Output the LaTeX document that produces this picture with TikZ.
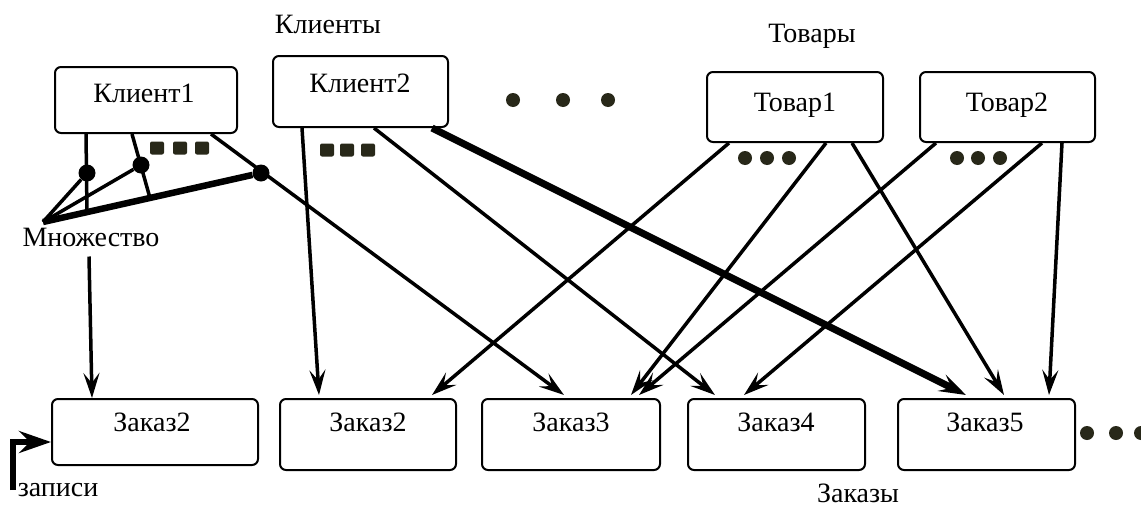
\documentclass[tikz,border=0pt]{standalone}
\usepackage{fontspec}
\setmainfont{Liberation Serif}
\usetikzlibrary{arrows.meta,calc}
\definecolor{dotc}{RGB}{40,40,25}
\tikzset{
  box/.style={draw, line width=2pt, rounded corners=6pt, inner sep=0pt},
  txt/.style={inner sep=0pt, font=\fontsize{28}{30}\selectfont},
  conn/.style={line width=3.5pt, -{Stealth[length=25pt,width=16pt,inset=10pt]}},
  thickconn/.style={line width=7pt, -{Stealth[length=27pt,width=18pt,inset=11pt]}},
  fanline/.style={line width=3.5pt},
  fanthick/.style={line width=6.5pt},
  bigdot/.style={circle, fill=black, inner sep=0pt, minimum size=17pt},
  sqdot/.style={fill=dotc, inner sep=0pt, minimum width=14pt, minimum height=13pt, rounded corners=2pt},
  rdot/.style={circle, fill=dotc, inner sep=0pt, minimum size=14pt}
}
\begin{document}
\begin{tikzpicture}[x=1pt,y=-1pt]
\useasboundingbox (0,0) rectangle (1141,509);
\fill[white] (0,0) rectangle (1141,509);

% boxes
\node[box, minimum width=182pt, minimum height=66pt] (k1) at (146,100) {};
\node[box, minimum width=175pt, minimum height=71pt] (k2) at (360.5,91.5) {};
\node[box, minimum width=176pt, minimum height=70pt] (t1) at (795,107) {};
\node[box, minimum width=175pt, minimum height=70pt] (t2) at (1007.5,107) {};
\node[box, minimum width=206pt, minimum height=66pt] (z1) at (155,432) {};
\node[box, minimum width=176pt, minimum height=71pt] (z2) at (368,434.5) {};
\node[box, minimum width=178pt, minimum height=71pt] (z3) at (571,434.5) {};
\node[box, minimum width=177pt, minimum height=71pt] (z4) at (776.5,434.5) {};
\node[box, minimum width=177pt, minimum height=71pt] (z5) at (986.5,434.5) {};

% box texts
\node[txt] (k1t) at (144,93) {Клиент1};
\node[txt] (k2t) at (360,83) {Клиент2};
\node[txt] (t1t) at (795,105) {Товар1};
\node[txt] (t2t) at (1007,105) {Товар2};
\node[txt] (z1t) at (152,422) {Заказ2};
\node[txt] (z2t) at (368,422) {Заказ2};
\node[txt] (z3t) at (571,422) {Заказ3};
\node[txt] (z4t) at (776,422) {Заказ4};
\node[txt] (z5t) at (985,422) {Заказ5};

% labels
\node[txt] (lk) at (328,24) {Клиенты};
\node[txt] (lt) at (812,36) {Товары};
\node[txt] (mn) at (91,237) {Множество};
\node[txt] (lz) at (58,490) {записи};
\node[txt] (lzz) at (858,493) {Заказы};

% ellipsis dots
\node[sqdot] (s11) at (157,148) {};
\node[sqdot] (s12) at (180,148) {};
\node[sqdot] (s13) at (202,148) {};
\node[sqdot] (s21) at (327,150) {};
\node[sqdot] (s22) at (347,150) {};
\node[sqdot] (s23) at (368,150) {};
\node[rdot] (m1) at (513,100) {};
\node[rdot] (m2) at (563,100) {};
\node[rdot] (m3) at (608,100) {};
\node[rdot] (r11) at (745,158) {};
\node[rdot] (r12) at (767,158) {};
\node[rdot] (r13) at (789,158) {};
\node[rdot] (r21) at (957,158) {};
\node[rdot] (r22) at (978,158) {};
\node[rdot] (r23) at (1000,158) {};
\node[rdot] (e1) at (1087,433) {};
\node[rdot] (e2) at (1116,433) {};
\node[rdot] (e3) at (1141,433) {};

% fan of Клиент1 to Множество
\coordinate (fan) at (43,222);
\coordinate (j1) at (87,212);
\coordinate (j2) at (150,198);
\node[bigdot] (d1) at (87,173) {};
\node[bigdot] (d2) at (141,165) {};
\node[bigdot] (d3) at (261,173) {};
\draw[fanline] ($(k1.south west)+(32,0)$) -- (j1);
\draw[fanline] ($(k1.south west)+(78,0)$) -- (j2);
\draw[fanline] (fan) -- (d1);
\draw[fanline] (fan) -- (d2);
\draw[fanthick] (fan) -- (d3);

% connectors
\draw[conn] ($(mn.south)+(-2,10)$) -- ($(z1.north west)+(41,0)$);
\draw[conn] ($(k1.south west)+(157,0)$) -- ($(z3.north west)+(83,-3)$);
\draw[conn] ($(k2.south west)+(30,0)$) -- ($(z2.north west)+(40,-3)$);
\draw[conn] ($(k2.south west)+(102,0)$) -- ($(z4.north west)+(28,-3)$);
\draw[thickconn] ($(k2.south west)+(160,0)$) -- ($(z5.north west)+(69,-3)$);
\draw[conn] ($(t1.south west)+(23,0)$) -- ($(z2.north west)+(153,-3)$);
\draw[conn] ($(t1.south west)+(120,0)$) -- ($(z3.north west)+(150,-3)$);
\draw[conn] ($(t1.south west)+(146,0)$) -- ($(z5.north west)+(107,-3)$);
\draw[conn] ($(t2.south west)+(17,0)$) -- ($(z3.north west)+(158,-3)$);
\draw[conn] ($(t2.south west)+(123,0)$) -- ($(z4.north west)+(57,-3)$);
\draw[conn] ($(t2.south west)+(143,0)$) -- ($(z5.north west)+(152,-3)$);

% записи arrow
\coordinate (zs) at (13,490);
\draw[line width=6pt, -{Stealth[length=32pt,width=22pt,inset=11pt]}] (zs) |- ($(z1.west)+(0,10)$);
\end{tikzpicture}
\end{document}
